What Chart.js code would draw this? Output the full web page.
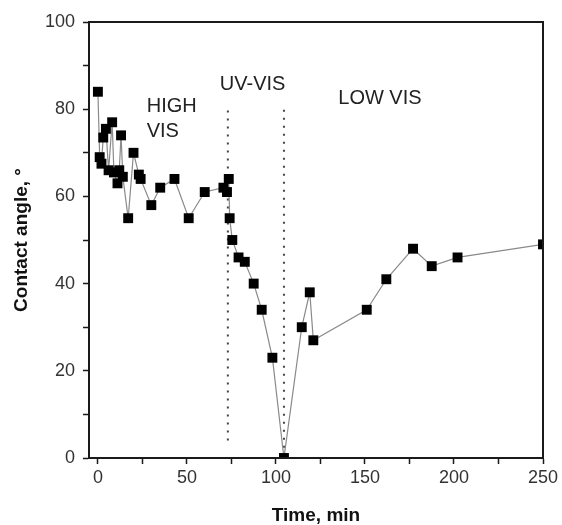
<!DOCTYPE html>
<html>
<head>
<meta charset="utf-8">
<title>Contact angle vs time</title>
<script src="https://cdn.jsdelivr.net/npm/chart.js@4.4.1/dist/chart.umd.min.js"></script>
<style>
  html, body { margin: 0; padding: 0; background: #fff; }
  #wrap { width: 562px; height: 525px; position: relative; }
</style>
</head>
<body>
<div id="wrap"><canvas id="angleChart"></canvas></div>
<script>
const times  = [0, 1, 2, 3, 4.5, 6, 8, 9, 11, 12, 13, 14, 17, 20, 23, 24, 30, 35, 43, 51, 60,
                70.5, 72.5, 73.5, 74, 75.5, 79, 82.5, 87.5, 92, 98, 104.5,
                114.5, 119, 121, 151, 162, 177, 187.5, 202, 250];
const angles = [84, 69, 67.5, 73.5, 75.5, 66, 77, 65.5, 63, 66, 74, 64.5, 55, 70, 65, 64, 58, 62, 64, 55, 61,
                62, 61, 64, 55, 50, 46, 45, 40, 34, 23, 0,
                30, 38, 27, 34, 41, 48, 44, 46, 49];

// dotted separators between illumination regimes
const dividerTimes  = [73, 104.5];
const dividerTop    = [80, 80.5];
const dividerBottom = [4, 0.5];

// regime labels
const regimeLabels = ['HIGH', 'VIS', 'UV-VIS', 'LOW VIS'];

// axis ticks (labelled) and minor ticks
const xTicks = [0, 50, 100, 150, 200, 250];
const xMinor = [25, 75, 125, 175, 225];
const yTicks = [0, 20, 40, 60, 80, 100];
const yMinor = [10, 30, 50, 70, 90];

const FONT = '"Liberation Sans", Arial, sans-serif';
const INK = '#1a1a1a';

const points = times.map((t, i) => ({ x: t, y: angles[i] }));

const dividerSets = dividerTimes.map((t, i) => ({
    data: [{ x: t, y: dividerBottom[i] }, { x: t, y: dividerTop[i] }],
    borderColor: '#444',
    borderWidth: 2,
    borderDash: [2, 6],
    pointRadius: 0,
    showLine: true,
    order: 2
}));

// text placed in data units (left edge, baseline)
const labelSpots = [
    { text: regimeLabels[0], x: 27.4, y: 79.4 },
    { text: regimeLabels[1], x: 27.4, y: 73.6 },
    { text: regimeLabels[2], x: 68.5, y: 84.4 },
    { text: regimeLabels[3], x: 135, y: 81.2 }
];

const frameAndText = {
    id: 'frameAndText',
    afterDatasetsDraw(chart) {
        const { ctx, chartArea: a, scales } = chart;
        ctx.save();
        // box around plot
        ctx.strokeStyle = INK;
        ctx.lineWidth = 2;
        ctx.strokeRect(a.left, a.top, a.right - a.left, a.bottom - a.top);
        // regime labels
        ctx.fillStyle = '#222';
        ctx.font = '20px ' + FONT;
        ctx.textAlign = 'left';
        ctx.textBaseline = 'alphabetic';
        labelSpots.forEach(l => {
            ctx.fillText(l.text, scales.x.getPixelForValue(l.x), scales.y.getPixelForValue(l.y));
        });
        ctx.restore();
    }
};

const tickList = (major, minor) => major.concat(minor).sort((a, b) => a - b).map(v => ({ value: v }));

new Chart(document.getElementById('angleChart'), {
    type: 'scatter',
    data: {
        datasets: [{
            data: points,
            showLine: true,
            borderColor: '#8a8a8a',
            borderWidth: 1.2,
            pointStyle: 'rect',
            pointRadius: 7,
            pointBorderWidth: 0,
            pointBackgroundColor: '#000',
            order: 1
        }, ...dividerSets]
    },
    options: {
        responsive: true,
        maintainAspectRatio: false,
        animation: false,
        layout: { padding: { top: 22, right: 19, left: 0, bottom: 0 } },
        plugins: { legend: { display: false }, tooltip: { enabled: false } },
        scales: {
            x: {
                type: 'linear',
                min: -5,
                max: 250,
                afterBuildTicks: s => { s.ticks = tickList(xTicks, xMinor); },
                afterFit: s => { s.height = 67; },
                ticks: {
                    padding: 3,
                    color: '#333',
                    font: { family: FONT, size: 18 },
                    callback: v => xTicks.includes(v) ? String(v) : ''
                },
                grid: { drawOnChartArea: false, tickLength: 6, tickColor: INK, tickWidth: 1.5 },
                border: { display: true, color: INK, width: 2 },
                title: {
                    display: true,
                    text: 'Time, min',
                    color: '#111',
                    font: { family: FONT, size: 19, weight: 'bold' },
                    padding: { top: 0, bottom: -2 }
                }
            },
            y: {
                min: 0,
                max: 100,
                afterBuildTicks: s => { s.ticks = tickList(yTicks, yMinor); },
                afterFit: s => { s.width = 89; },
                ticks: {
                    padding: 8,
                    color: '#333',
                    font: { family: FONT, size: 18 },
                    callback: v => yTicks.includes(v) ? String(v) : ''
                },
                grid: { drawOnChartArea: false, tickLength: 6, tickColor: INK, tickWidth: 1.5 },
                border: { display: true, color: INK, width: 2 },
                title: {
                    display: true,
                    text: 'Contact angle, °',
                    color: '#111',
                    font: { family: FONT, size: 19, weight: 'bold' },
                    padding: { top: 10, bottom: 0 }
                }
            }
        }
    },
    plugins: [frameAndText]
});
</script>
</body>
</html>
